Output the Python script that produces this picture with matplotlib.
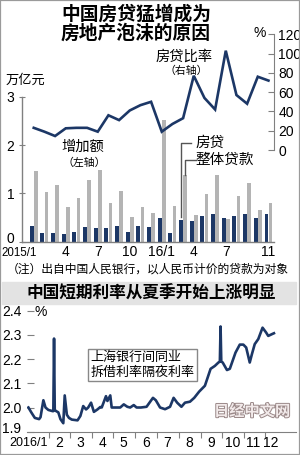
import matplotlib
matplotlib.use("Agg")
import matplotlib.pyplot as plt
import matplotlib.patheffects as pe
from matplotlib.patches import Rectangle
import numpy as np

plt.rcParams["font.family"] = ["Noto Sans CJK SC", "DejaVu Sans"]
NUM_FONT = ["Liberation Sans"]

# ---- top chart data: new loans (trillion yuan) and mortgage share (%) ----
months = ["2015/1", "2", "3", "4", "5", "6", "7", "8", "9", "10", "11", "12",
          "16/1", "2", "3", "4", "5", "6", "7", "8", "9", "10", "11"]
mortgage = [0.32, 0.19, 0.17, 0.16, 0.21, 0.30, 0.28, 0.29, 0.32, 0.20, 0.32, 0.30,
            0.48, 0.19, 0.45, 0.43, 0.53, 0.57, 0.50, 0.53, 0.57, 0.49, 0.57]
total_loans = [1.47, 1.02, 1.18, 0.71, 0.90, 1.28, 1.48, 0.81, 1.05, 0.51, 0.71, 0.60,
               2.51, 0.73, 1.37, 0.56, 0.99, 1.38, 0.46, 0.95, 1.22, 0.65, 0.80]
mortgage_ratio = [23, 19, 14.5, 22.5, 23, 23, 19, 36, 31, 41, 46.5, 50,
                  19, 27, 33, 77, 54, 42, 103, 57, 48, 76, 72]
top_tick_idx = [3, 6, 9, 12, 15, 18, 22]
top_tick_labels = ["4", "7", "10", "16/1", "4", "7", "11"]
top_first_label = "2015/1"
left_ticks = [0, 1, 2, 3]
left_labels = ["0", "1", "2", "3"]
right_ticks = [0, 20, 40, 60, 80, 100, 120]

# ---- bottom chart data: SHIBOR overnight 2016 (day of year, %) ----
shibor_day = [2, 6, 11, 17, 19, 23, 26, 30, 36, 37, 38, 39, 41, 44, 47, 51, 53, 56, 59,
              63, 71, 75, 79, 83, 86, 90, 94, 99, 103, 105, 111, 113, 117, 119, 124,
              131, 136, 141, 145, 150, 154, 160, 168, 177, 181, 187, 194, 201, 206,
              211, 217, 222, 229, 235, 242, 250, 258, 264, 269, 271, 272, 273, 275,
              281, 285, 293, 299, 304, 308, 313, 316, 320, 325, 331, 336, 339, 344, 347]
shibor_val = [2.00, 1.98, 1.957, 1.952, 1.96, 2.03, 2.00, 1.99, 1.985, 1.985, 2.285, 1.99,
              1.985, 1.98, 1.952, 1.935, 2.05, 1.97, 1.957, 1.95, 1.947, 1.965, 2.006,
              1.992, 2.00, 2.02, 1.982, 1.992, 2.002, 2.00, 2.047, 2.027, 2.05, 2.00,
              2.00, 2.00, 2.013, 2.003, 2.00, 2.01, 2.00, 2.00, 2.003, 2.04, 2.03, 2.00,
              1.993, 2.003, 2.04, 2.02, 2.003, 2.02, 2.024, 2.04, 2.066, 2.09, 2.16,
              2.172, 2.186, 2.19, 2.335, 2.19, 2.186, 2.155, 2.16, 2.227, 2.26, 2.26,
              2.248, 2.186, 2.22, 2.262, 2.283, 2.33, 2.31, 2.296, 2.303, 2.307]
month_starts = [31, 60, 91, 121, 152, 182, 213, 244, 274, 305, 335]
month_label_days = [45, 75, 106, 136, 167, 197, 228, 259, 289, 318, 343]
month_labels = ["2", "3", "4", "5", "6", "7", "8", "9", "10", "11", "12"]
bottom_first_label = "2016/1"
rate_ticks = [1.9, 2.0, 2.1, 2.2, 2.3, 2.4]
rate_labels = ["1.9", "2.0", "2.1", "2.2", "2.3", "2.4"]

W, H = 300, 455
NAVY = "#1c3766"
GRAY_BAR = "#b4b4b4"
AXIS = "#808080"


def fx(x):
    return x / W


def fy(y):
    return 1 - y / H


fig = plt.figure(figsize=(3.0, 4.55), dpi=100)
fig.patch.set_facecolor("white")

# ================= top chart =================
ax = fig.add_axes([fx(22), fy(241.7), (274 - 22) / W, (241.7 - 34.3) / H])
ax.set_facecolor("none")
x = np.arange(len(months))
ax.bar(x - 0.19, mortgage, width=0.36, color=NAVY, zorder=2)
ax.bar(x + 0.19, total_loans, width=0.36, color=GRAY_BAR, zorder=2)
ax.set_xlim(-1.1, 22.52)
ax.set_ylim(0, 4.29)

for s in ["top", "right"]:
    ax.spines[s].set_visible(False)
ax.spines["left"].set_bounds(0, 3)
for s in ["left", "bottom"]:
    ax.spines[s].set_color(AXIS)
    ax.spines[s].set_linewidth(1)
# the "0" label sits a little higher so it clears the "2015/1" label below it
ax.set_yticks(left_ticks, [""] + left_labels[1:], fontfamily=NUM_FONT, fontsize=10)
ax.tick_params(axis="y", direction="inout", length=5, color=AXIS, pad=3)
ax.annotate(left_labels[0], xy=(0, left_ticks[0]), xycoords=("axes fraction", "data"),
            xytext=(-5.5, 2), textcoords="offset points", ha="right", va="center",
            fontfamily=NUM_FONT, fontsize=10, annotation_clip=False)
ax.set_xticks(top_tick_idx, top_tick_labels, fontfamily=NUM_FONT, fontsize=10)
ax.tick_params(axis="x", length=0, pad=2.5)
ax.annotate(top_first_label, xy=(0.25, 0), xycoords="data", xytext=(0, -3.6),
            textcoords="offset points", ha="right", va="top",
            fontfamily=NUM_FONT, fontsize=8.3, annotation_clip=False)

# leader lines from labels to the 2016/3 bars
i = 14
ax.plot([i - 0.19, i - 0.19, i + 0.75], [mortgage[i] + 0.06, 2.05, 2.05],
        color="#555555", lw=1, zorder=3)
ax.plot([i + 0.19, i + 0.19, i + 1.2], [total_loans[i] + 0.02, 1.69, 1.69],
        color="#555555", lw=1, zorder=3)

ax2 = ax.twinx()
ax2.plot(x, mortgage_ratio, color=NAVY, lw=1.9, solid_joinstyle="miter", zorder=4)
ax2.set_ylim(-95.1, 120)
for s in ["top", "left", "bottom"]:
    ax2.spines[s].set_visible(False)
ax2.spines["right"].set_bounds(0, 120)
ax2.spines["right"].set_color(AXIS)
ax2.set_yticks(right_ticks, [str(v) for v in right_ticks], fontfamily=NUM_FONT, fontsize=10)
ax2.tick_params(axis="y", direction="in", length=4, color=AXIS, pad=3)

fig.text(fx(136), fy(14), "中国房贷猛增成为", ha="center", va="center",
         fontsize=13.5, fontweight="bold")
fig.text(fx(136), fy(33), "房地产泡沫的原因", ha="center", va="center",
         fontsize=13.5, fontweight="bold")
fig.text(fx(260), fy(33), "%", ha="center", va="center", fontsize=10, fontfamily=NUM_FONT)
fig.text(fx(25), fy(80), "万亿元", ha="center", va="center", fontsize=9.5)
fig.text(fx(184), fy(57), "房贷比率", ha="center", va="center", fontsize=10.3)
fig.text(fx(186), fy(70.5), "（右轴）", ha="center", va="center", fontsize=7.8)
fig.text(fx(83), fy(146.5), "增加额", ha="center", va="center", fontsize=10.3)
fig.text(fx(84), fy(163), "（左轴）", ha="center", va="center", fontsize=7.8)
fig.text(fx(195), fy(142.7), "房贷", ha="left", va="center", fontsize=10.5)
fig.text(fx(195), fy(160), "整体贷款", ha="left", va="center", fontsize=10.5)

fig.text(fx(148), fy(269.5), "（注）出自中国人民银行，以人民币计价的贷款为对象",
         ha="center", va="center", fontsize=8.5)

# ================= bottom chart =================
fig.add_artist(Rectangle((fx(2), fy(304)), (296 - 2) / W, 22 / H,
                         transform=fig.transFigure, color="#e3e3e3", zorder=0))
fig.text(fx(151), fy(294), "中国短期利率从夏季开始上涨明显", ha="center", va="center",
         fontsize=12, fontweight="bold")

ax3 = fig.add_axes([fx(27), fy(431.7), (296 - 27) / W, (431.7 - 304.7) / H])
ax3.set_facecolor("none")
ax3.plot(shibor_day, shibor_val, color=NAVY, lw=1.9, solid_joinstyle="round")
ax3.set_xlim(0, 378)
ax3.set_ylim(1.9, 2.425)
for s in ["top", "right", "left"]:
    ax3.spines[s].set_visible(False)
ax3.spines["bottom"].set_color(AXIS)
ax3.set_yticks(rate_ticks, [""] + rate_labels[1:], fontfamily=NUM_FONT, fontsize=10)
ax3.tick_params(axis="y", direction="in", length=5, color=AXIS, pad=4)
ax3.annotate(rate_labels[0], xy=(0, rate_ticks[0]), xycoords=("axes fraction", "data"),
             xytext=(-4, 2), textcoords="offset points", ha="right", va="center",
             fontfamily=NUM_FONT, fontsize=10, annotation_clip=False)
ax3.set_xticks(month_starts, [""] * len(month_starts))
ax3.tick_params(axis="x", which="major", direction="out", length=4, color=AXIS)
ax3.set_xticks(month_label_days, month_labels, minor=True, fontfamily=NUM_FONT, fontsize=10)
ax3.tick_params(axis="x", which="minor", length=0, pad=3)
ax3.annotate(bottom_first_label, xy=(31, 1.9), xycoords="data", xytext=(-1, -3.6),
             textcoords="offset points", ha="right", va="top",
             fontfamily=NUM_FONT, fontsize=9, annotation_clip=False)
fig.text(fx(41), fy(312.5), "%", ha="center", va="center", fontsize=10, fontfamily=NUM_FONT)

ax3.text(89, 2.176, "上海银行间同业\n拆借利率隔夜利率", ha="left", va="center",
         fontsize=9.4, linespacing=1.15,
         bbox=dict(boxstyle="square,pad=0.2", fc="white", ec="#888888", lw=1))

wm = fig.text(fx(252), fy(411), "日经中文网", ha="center", va="center", fontsize=11,
              fontweight="bold", color="#f2eaea")
wm.set_path_effects([pe.withStroke(linewidth=1.4, foreground="#9a8888")])

fig.add_artist(Rectangle((0, 0), 1, 1, transform=fig.transFigure, fill=False,
                         ec="#9a9a9a", lw=1.6))

fig.savefig("out.png", dpi=100)
